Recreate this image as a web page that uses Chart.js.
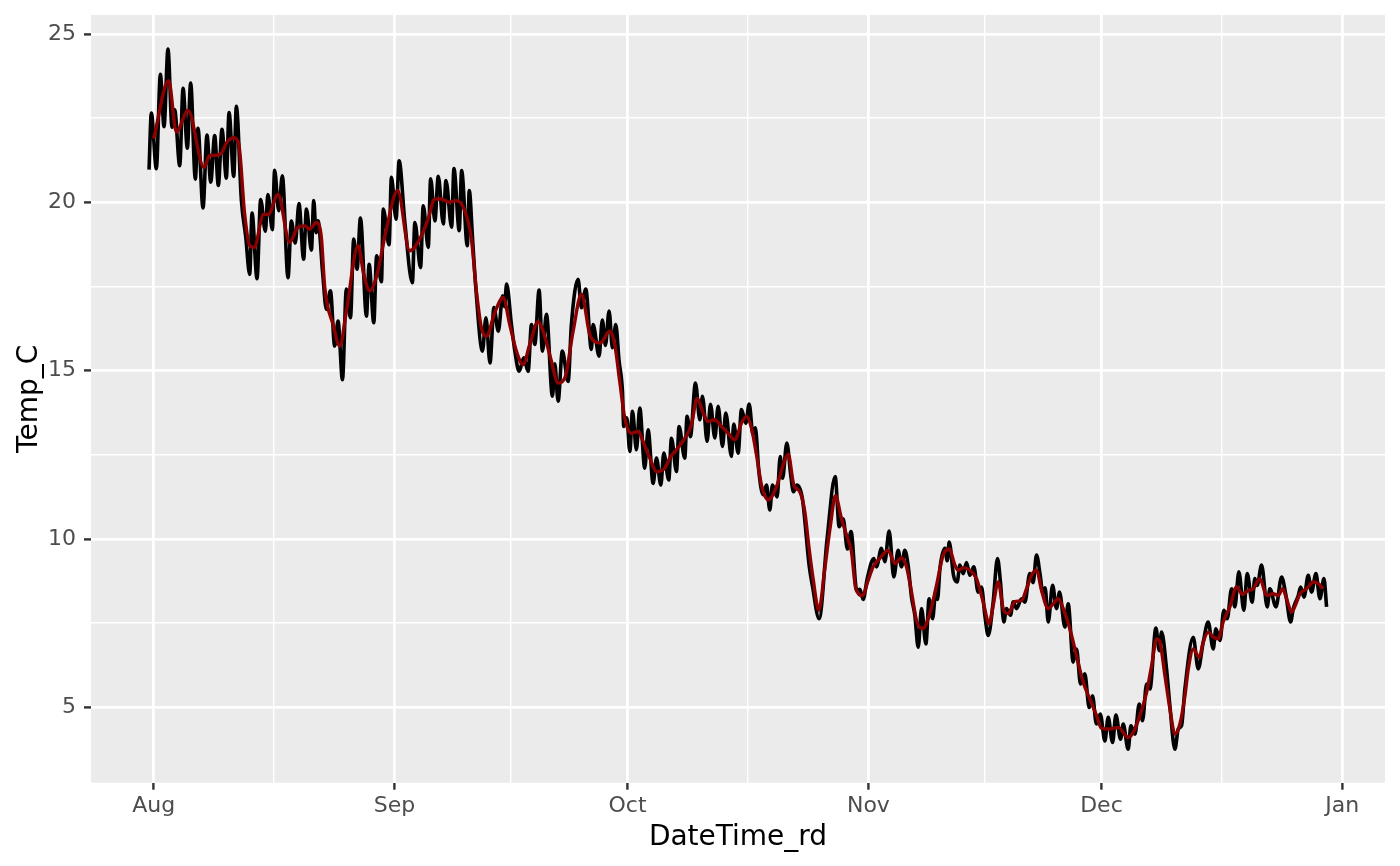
<!DOCTYPE html>
<html>
<head>
<meta charset="utf-8">
<title>Temp_C</title>
<script src="https://cdn.jsdelivr.net/npm/chart.js@4.4.1/dist/chart.umd.min.js"></script>
<style>
  html, body { margin: 0; padding: 0; background: #ffffff; }
  #wrap { width: 1400px; height: 866px; position: relative; }
</style>
</head>
<body>
<div id="wrap"><canvas id="tempChart"></canvas></div>
<script>
// x values are days since 1 Aug (00:00)
const monthTicks = [0, 31, 61, 92, 122, 153];
const monthLabels = ["Aug", "Sep", "Oct", "Nov", "Dec", "Jan"];
const monthMinorTicks = [15.5, 46, 76.5, 107, 137.5];
const tempTicks = [5, 10, 15, 20, 25];
const tempMinorTicks = [7.5, 12.5, 17.5, 22.5];

// raw series (daily highs / lows)
const rawDay = [
  -0.6, -0.3, 0.34, 0.86, 1.33, 1.84, 2.36, 2.7, 3.35, 3.78, 4.33, 4.76, 5.36, 5.7, 6.35, 6.86,
  7.34, 7.85, 8.32, 8.79, 9.35, 9.7, 10.3, 10.64, 11.29, 11.84, 12.36, 12.66, 13.3, 13.77, 14.37, 14.7,
  15.27, 15.57, 16.09, 16.56, 17.29, 17.72, 18.23, 18.7, 19.3, 19.66, 20.3, 20.6, 20.9, 21.15, 21.75, 22.23,
  22.75, 23.3, 23.73, 24.3, 24.8, 25.33, 25.75, 26.18, 26.61, 27.39, 27.73, 28.33, 28.7, 29.32, 29.55, 30.3,
  30.6, 31.2, 31.59, 32.33, 33.3, 33.62, 34.35, 34.7, 35.34, 35.65, 36.2, 36.63, 37.28, 37.62, 38.35, 38.65,
  39.33, 39.64, 40.37, 40.62, 41.05, 41.46, 42.32, 42.77, 43.29, 43.8, 44.36, 44.92, 45.15, 45.43, 46.05, 46.48,
  47.04, 47.64, 48.2, 48.63, 49.06, 49.61, 50.04, 50.56, 51.33, 51.63, 52.06, 52.6, 53.35, 53.77, 54.63, 55.06,
  55.62, 56.34, 56.56, 57.33, 57.75, 58.15, 58.62, 59.05, 59.48, 59.9, 60.34, 60.51, 60.9, 61.29, 61.63, 62.14,
  62.57, 63.21, 63.64, 64.29, 64.72, 65.28, 65.66, 66.3, 66.65, 67.29, 67.63, 68.36, 68.66, 69.09, 69.74, 70.3,
  70.64, 71.24, 71.67, 72.23, 72.66, 73.22, 73.64, 74.37, 74.67, 75.23, 75.66, 76.22, 76.65, 77.15, 77.45, 77.9,
  78.45, 78.88, 79.31, 79.65, 80.25, 80.65, 80.95, 81.5, 82.0, 82.35, 82.8, 83.5, 84.37, 84.8, 85.66, 86.69,
  87.72, 88.24, 88.75, 89.3, 89.76, 90.5, 90.9, 91.33, 91.85, 92.7, 93.04, 93.68, 94.11, 94.67, 95.27, 95.83,
  96.26, 96.69, 97.12, 97.55, 97.98, 98.41, 98.84, 99.4, 99.82, 100.26, 100.69, 100.9, 101.21, 101.85, 102.15, 102.4,
  102.97, 103.43, 103.77, 104.2, 104.63, 105.06, 105.57, 106.13, 106.56, 106.99, 107.42, 108.06, 108.62, 109.0, 109.43, 109.78,
  110.29, 110.64, 111.07, 111.71, 112.14, 112.78, 113.2, 113.64, 114.1, 114.45, 114.75, 115.15, 115.71, 116.22, 116.6, 117.29,
  117.72, 118.36, 118.79, 119.31, 119.86, 120.42, 120.85, 121.35, 121.85, 122.44, 122.87, 123.43, 123.86, 124.46, 124.8, 125.44,
  125.79, 126.31, 126.86, 127.29, 127.81, 128.24, 129.01, 129.44, 129.74, 130.38, 130.81, 131.46, 131.89, 132.31, 132.74, 133.81,
  134.46, 135.1, 135.74, 136.39, 136.73, 137.25, 137.76, 138.19, 138.75, 139.17, 139.69, 140.33, 140.76, 141.4, 141.75, 142.05,
  142.61, 143.34, 143.68, 144.46, 145.19, 145.75, 146.35, 146.69, 147.34, 147.64, 148.07, 148.62, 149.05, 149.61, 150.12, 150.64,
  150.98
];
const rawTemp = [
  20.97, 22.65, 21.0, 23.8, 22.25, 24.55, 22.23, 22.75, 21.09, 23.39, 21.61, 23.54, 20.69, 22.2, 19.83, 22.0,
  20.6, 21.98, 20.5, 22.17, 20.72, 22.67, 20.77, 22.85, 20.05, 18.99, 17.86, 19.68, 17.73, 20.08, 19.14, 20.23,
  19.19, 20.95, 19.75, 20.79, 17.76, 19.44, 18.79, 19.96, 18.31, 19.8, 18.58, 20.05, 19.1, 19.45, 17.9, 16.82,
  17.37, 15.73, 16.47, 14.73, 17.42, 16.57, 18.91, 18.01, 19.53, 16.62, 18.16, 16.42, 18.41, 17.64, 19.8, 18.74,
  20.74, 19.5, 21.23, 19.4, 17.61, 19.4, 18.06, 19.9, 18.66, 20.7, 19.45, 20.77, 19.36, 20.65, 19.26, 21.0,
  19.16, 20.94, 18.71, 20.35, 18.9, 17.47, 15.58, 16.57, 15.23, 16.87, 16.17, 17.22, 16.9, 17.57, 16.37, 15.6,
  14.98, 15.38, 14.98, 16.37, 15.78, 17.39, 15.58, 16.67, 14.24, 15.2, 14.09, 15.58, 14.68, 16.37, 17.71, 16.87,
  17.42, 15.63, 16.37, 15.43, 16.5, 15.75, 16.77, 15.68, 16.37, 15.3, 14.39, 13.34, 13.6, 12.6, 13.79, 12.65,
  13.89, 12.1, 13.24, 11.65, 12.4, 11.6, 12.55, 11.75, 12.99, 12.0, 13.34, 12.4, 13.64, 13.04, 14.63, 13.54,
  14.24, 12.9, 14.0, 13.0, 13.94, 12.75, 13.74, 12.45, 13.41, 12.55, 13.84, 13.44, 14.01, 13.1, 13.3, 12.0,
  11.31, 11.6, 10.86, 11.6, 11.25, 12.45, 11.8, 12.85, 11.9, 11.4, 11.6, 11.2, 9.22, 8.6, 7.63, 10.01,
  11.85, 10.36, 10.6, 9.7, 10.22, 8.47, 8.5, 8.2, 8.82, 9.42, 9.17, 9.72, 9.32, 10.23, 8.87, 9.66,
  9.17, 9.66, 9.2, 8.27, 7.73, 6.78, 7.93, 6.88, 8.22, 7.63, 8.47, 8.2, 9.12, 9.72, 9.35, 9.91,
  8.9, 8.72, 9.22, 8.97, 9.3, 8.92, 9.17, 8.42, 8.57, 7.73, 7.13, 8.12, 9.42, 8.72, 7.53, 7.93,
  7.73, 8.13, 7.93, 8.22, 8.12, 8.97, 8.7, 9.52, 8.95, 8.4, 8.55, 7.53, 8.62, 7.93, 8.42, 7.38,
  8.07, 6.34, 6.73, 5.69, 5.99, 4.99, 5.34, 4.5, 4.8, 4.0, 4.7, 3.95, 4.77, 4.05, 4.5, 3.75,
  4.45, 4.2, 5.09, 4.6, 5.69, 5.54, 7.35, 6.68, 7.23, 6.14, 5.04, 3.75, 4.35, 4.45, 5.54, 7.08,
  6.14, 6.93, 7.53, 6.73, 7.33, 6.98, 7.88, 7.63, 8.52, 7.98, 9.02, 7.88, 8.97, 8.12, 8.82, 8.62,
  9.22, 7.98, 8.52, 7.98, 8.87, 8.32, 7.53, 7.93, 8.32, 8.57, 8.27, 8.92, 8.42, 8.97, 8.22, 8.82,
  7.98
];

// smoothed series
const smoothDay = [
  0.0, 1.93, 2.92, 4.42, 6.48, 7.21, 7.85, 8.71, 9.44, 10.3, 10.94, 11.71, 12.36, 12.92, 14.16, 14.72,
  16.0, 17.51, 18.58, 19.44, 20.08, 20.94, 21.58, 22.02, 23.09, 23.95, 24.81, 26.31, 27.04, 27.81, 28.75, 29.95,
  31.4, 32.96, 34.24, 35.32, 36.18, 37.04, 38.02, 38.97, 40.04, 40.9, 41.54, 42.19, 42.83, 43.9, 44.98, 45.83,
  46.69, 47.55, 48.41, 49.48, 50.13, 51.2, 52.06, 52.92, 53.99, 55.06, 56.13, 56.65, 57.5, 58.71, 59.35, 59.99,
  60.64, 61.5, 62.36, 63.0, 63.86, 64.72, 65.79, 66.43, 67.29, 68.36, 69.22, 69.95, 70.73, 71.37, 72.23, 73.09,
  73.94, 74.8, 75.66, 76.31, 76.95, 77.59, 78.24, 79.09, 80.17, 81.03, 81.67, 82.4, 83.17, 83.81, 84.37, 84.88,
  85.62, 86.39, 87.12, 87.76, 88.53, 89.26, 89.82, 90.38, 91.24, 91.97, 92.61, 93.47, 94.54, 95.4, 96.26, 96.9,
  97.55, 98.19, 98.97, 99.9, 100.77, 101.62, 102.4, 103.13, 103.55, 104.2, 105.06, 105.92, 106.77, 107.55, 108.06, 108.71,
  109.35, 109.99, 110.85, 111.71, 112.36, 113.0, 113.64, 114.29, 115.15, 115.79, 116.43, 117.08, 117.93, 118.79, 119.65, 120.51,
  121.37, 122.01, 123.09, 124.16, 125.44, 126.09, 126.94, 127.81, 128.46, 129.1, 129.53, 130.17, 130.82, 131.46, 132.1, 132.75,
  133.18, 133.82, 134.59, 135.1, 135.74, 136.39, 137.03, 137.67, 138.53, 139.39, 140.16, 140.89, 141.54, 142.4, 143.26, 144.11,
  144.76, 145.32, 145.83, 146.47, 147.12, 147.55, 148.41, 149.27, 149.91, 150.55
];
const smoothTemp = [
  21.89, 23.61, 22.09, 22.73, 21.03, 21.39, 21.39, 21.46, 21.79, 21.92, 21.74, 19.65, 18.71, 18.66, 19.65, 19.63,
  20.23, 18.81, 19.26, 19.3, 19.2, 19.4, 18.96, 17.47, 16.37, 15.73, 16.77, 18.71, 17.86, 17.37, 17.86, 19.2,
  20.35, 18.56, 18.91, 19.5, 20.1, 20.1, 20.0, 20.05, 19.75, 18.91, 17.37, 16.27, 16.02, 16.72, 17.17, 16.37,
  15.58, 15.18, 15.78, 16.45, 16.17, 15.28, 14.63, 14.78, 16.17, 17.27, 16.07, 15.88, 15.82, 16.18, 15.78, 14.68,
  13.59, 13.14, 13.19, 12.89, 12.4, 12.0, 12.1, 12.4, 12.65, 12.99, 13.39, 14.17, 13.74, 13.49, 13.54, 13.34,
  13.14, 12.95, 13.44, 13.64, 13.29, 12.5, 11.6, 11.16, 11.55, 12.2, 12.52, 11.6, 11.4, 10.81, 9.71, 8.82,
  7.88, 9.12, 10.41, 11.28, 10.61, 10.06, 9.62, 8.52, 8.32, 8.77, 9.17, 9.42, 9.66, 9.27, 9.44, 9.17,
  8.42, 7.58, 7.33, 7.78, 8.62, 9.52, 9.7, 9.22, 9.07, 9.14, 9.07, 8.82, 8.13, 7.48, 8.02, 8.72,
  7.93, 7.78, 8.14, 8.17, 8.52, 8.92, 9.07, 8.47, 7.93, 8.07, 8.22, 7.93, 7.33, 6.53, 5.74, 5.24,
  4.75, 4.37, 4.35, 4.4, 4.1, 4.25, 4.75, 5.44, 6.24, 7.03, 6.93, 5.94, 4.94, 4.2, 4.5, 5.34,
  6.14, 6.73, 6.48, 6.93, 7.23, 7.08, 7.03, 7.53, 7.98, 8.57, 8.35, 8.47, 8.52, 8.82, 8.32, 8.37,
  8.32, 8.52, 8.22, 7.83, 8.12, 8.37, 8.52, 8.72, 8.67, 8.52
];

const FONT = "'DejaVu Sans', Verdana, sans-serif";

// grey panel behind the grid
const panelBg = {
  id: "panelBg",
  beforeDraw(chart) {
    const { ctx, chartArea: a } = chart;
    ctx.save();
    ctx.fillStyle = "#EBEBEB";
    ctx.fillRect(a.left, a.top, a.right - a.left, a.bottom - a.top);
    ctx.restore();
  }
};

function toPoints(xs, ys) {
  return xs.map((x, i) => ({ x: x, y: ys[i] }));
}

function gridFor(majors) {
  const isMajor = c => c.tick && majors.includes(c.tick.value);
  return {
    color: "#FFFFFF",
    lineWidth: c => (isMajor(c) ? 2.8 : 1.4),
    tickColor: c => (isMajor(c) ? "#333333" : "rgba(0,0,0,0)"),
    tickWidth: 2.4,
    tickLength: 7
  };
}

// no extra room for edge labels: the panel keeps its own margins
function noEdgePadding(s) {
  s.paddingTop = 0;
  s.paddingBottom = 0;
  s.paddingLeft = 0;
  s.paddingRight = 0;
}

new Chart(document.getElementById("tempChart"), {
  type: "line",
  data: {
    datasets: [
      {
        label: "Temp_C",
        data: toPoints(rawDay, rawTemp),
        borderColor: "#000000",
        borderWidth: 3.6,
        cubicInterpolationMode: "monotone",
        borderJoinStyle: "round",
        pointRadius: 0,
        order: 2
      },
      {
        label: "smooth",
        data: toPoints(smoothDay, smoothTemp),
        borderColor: "#8B0000",
        borderWidth: 3.4,
        cubicInterpolationMode: "monotone",
        borderJoinStyle: "round",
        pointRadius: 0,
        order: 1
      }
    ]
  },
  options: {
    responsive: true,
    maintainAspectRatio: false,
    animation: false,
    layout: { padding: { top: 15, right: 15, bottom: 0, left: 0 } },
    plugins: {
      legend: { display: false },
      tooltip: { enabled: false }
    },
    scales: {
      x: {
        type: "linear",
        min: -8.07,
        max: 158.5,
        afterBuildTicks: s => {
          s.ticks = monthTicks.concat(monthMinorTicks).sort((a, b) => a - b).map(v => ({ value: v }));
        },
        afterFit: s => { s.height = 83.3; noEdgePadding(s); },
        ticks: {
          autoSkip: false,
          maxRotation: 0,
          padding: 3,
          color: "#4D4D4D",
          font: { family: FONT, size: 22 },
          callback: v => {
            const i = monthTicks.indexOf(v);
            return i < 0 ? "" : monthLabels[i];
          }
        },
        grid: gridFor(monthTicks),
        border: { display: false },
        title: {
          display: true,
          text: "DateTime_rd",
          color: "#000000",
          font: { family: FONT, size: 28 },
          padding: { top: 0, bottom: 11 }
        }
      },
      y: {
        type: "linear",
        min: 2.757,
        max: 25.565,
        afterBuildTicks: s => {
          s.ticks = tempTicks.concat(tempMinorTicks).sort((a, b) => a - b).map(v => ({ value: v }));
        },
        afterFit: s => { s.width = 91; noEdgePadding(s); },
        ticks: {
          padding: 8,
          color: "#4D4D4D",
          font: { family: FONT, size: 22 },
          callback: v => (tempTicks.includes(v) ? String(v) : "")
        },
        grid: gridFor(tempTicks),
        border: { display: false },
        title: {
          display: true,
          text: "Temp_C",
          color: "#000000",
          font: { family: FONT, size: 28 },
          padding: { top: 13, bottom: 0 }
        }
      }
    }
  },
  plugins: [panelBg]
});
</script>
</body>
</html>
